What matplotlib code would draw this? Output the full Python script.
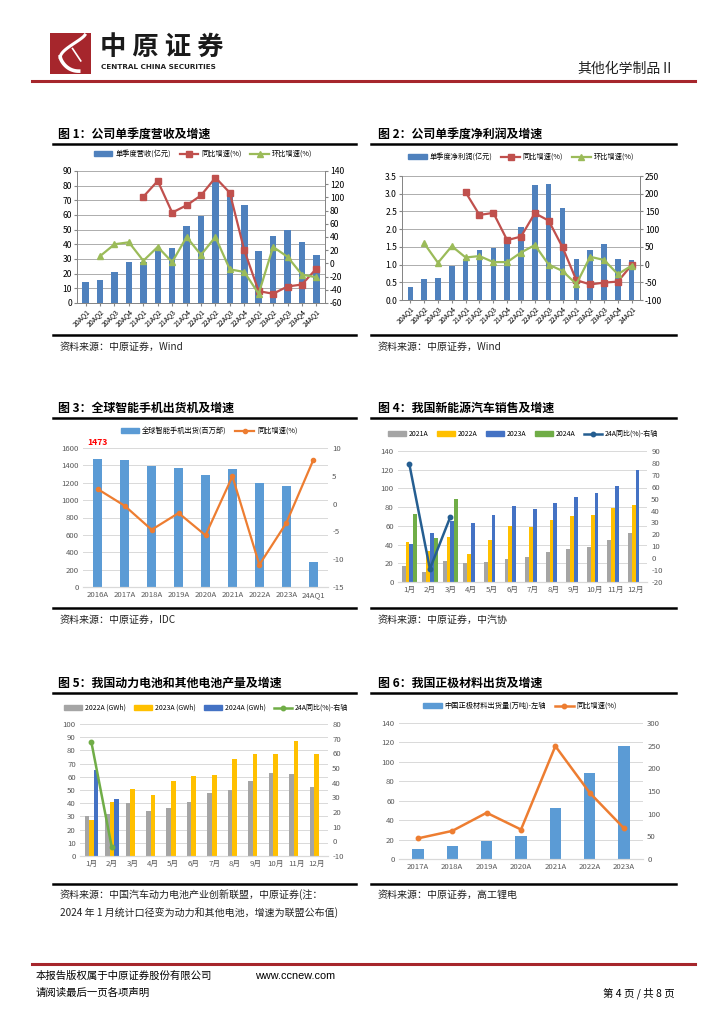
import numpy as np
import matplotlib.pyplot as plt
from matplotlib.lines import Line2D
from matplotlib.patches import Patch

plt.rcParams['font.family'] = ['Noto Sans CJK SC', 'DejaVu Sans']
plt.rcParams['axes.unicode_minus'] = False

# ---- data ----
quarters = ['20AQ1', '20AQ2', '20AQ3', '20AQ4', '21AQ1', '21AQ2', '21AQ3', '21AQ4',
            '22AQ1', '22AQ2', '22AQ3', '22AQ4', '23AQ1', '23AQ2', '23AQ3', '23AQ4', '24AQ1']
rev = [14.5, 16, 21, 28, 28, 37, 37.5, 52.5, 59, 84, 74, 66.5, 35.5, 45.5, 50, 41.5, 32.5]
rev_yoy = [None, None, None, None, 101, 125, 77, 88, 103, 130, 107, 20, -42, -46, -35, -32, -8]
rev_qoq = [None, 11, 29, 32, 4, 25, 2, 40, 13, 40, -9, -13, -46, 25, 10, -17, -21]

profit = [0.38, 0.58, 0.61, 0.95, 1.15, 1.4, 1.47, 1.62, 2.07, 3.25, 3.27, 2.6,
          1.15, 1.4, 1.57, 1.15, 1.12]
profit_yoy = [None, None, None, None, 204, 140, 146, 69, 79, 145, 124, 49, -44, -56, -51, -48, -1]
profit_qoq = [None, 60, 5, 52, 20, 24, 7, 7, 34, 55, 0, -18, -55, 22, 13, -27, -3]

phone_years = ['2016A', '2017A', '2018A', '2019A', '2020A', '2021A', '2022A', '2023A', '24AQ1']
phone_ship = [1473, 1465, 1395, 1372, 1292, 1355, 1202, 1166, 289]
phone_yoy = [2.6, -0.4, -4.7, -1.7, -5.7, 4.9, -11.0, -3.5, 7.8]

months = ['1月', '2月', '3月', '4月', '5月', '6月', '7月', '8月', '9月', '10月', '11月', '12月']
nev_2021 = [17.5, 11, 22.5, 20.5, 21.5, 25, 27, 32, 35, 37.5, 45, 52.5]
nev_2022 = [43, 33, 48, 29.5, 44.5, 60, 59, 66.5, 71, 71.5, 79, 82]
nev_2023 = [41, 52.5, 65.5, 63.5, 71.5, 81, 78, 84.5, 90.5, 95, 102.5, 119.5]
nev_2024 = [73, 47.5, 88.5]
nev_yoy24 = [79, -9, 35]

bat_2022 = [30, 32, 40.5, 34, 36, 41, 47.5, 50, 56.5, 63, 62, 52.5]
bat_2023 = [27.5, 41, 51, 46.5, 56.5, 60.5, 61, 73.5, 77.5, 77, 87.5, 77.5]
bat_2024 = [65.5, 43.5]
bat_yoy24 = [68, -4]

cat_years = ['2017A', '2018A', '2019A', '2020A', '2021A', '2022A', '2023A']
cat_ship = [10, 13, 19, 24, 53, 89, 116]
cat_yoy = [45.5, 62, 102, 65, 249, 146, 67.5]

W, H = 724, 1024
fig = plt.figure(figsize=(W / 100, H / 100), dpi=100)


def px_axes(l, t, r, b):
    return fig.add_axes([l / W, 1 - b / H, (r - l) / W, (b - t) / H])


def ftext(x, y, s, **kw):
    kw.setdefault('va', 'center')
    fig.text(x / W, 1 - y / H, s, **kw)


def hline(x0, x1, y, color='black', lw=1.5):
    fig.add_artist(Line2D([x0 / W, x1 / W], [1 - y / H, 1 - y / H], color=color, lw=lw,
                          transform=fig.transFigure))


def arr(v):
    return np.array([np.nan if a is None else a for a in v], dtype=float)


def flegend(handles, labels, xc, yc, ncol, fs=5.2, **kw):
    fig.legend(handles, labels, loc='center', bbox_to_anchor=(xc / W, 1 - yc / H), ncol=ncol,
               frameon=False, fontsize=fs, handlelength=2.6, handleheight=0.6,
               columnspacing=1.2, handletextpad=0.4, **kw)


# ---- header ----
logo = px_axes(50, 33, 91, 74)
logo.set_facecolor('#A6262C')
logo.set_xlim(0, 1)
logo.set_ylim(0, 1)
logo.set_xticks([])
logo.set_yticks([])
for s in logo.spines.values():
    s.set_visible(False)
t = np.linspace(0, 1, 60)
logo.plot(0.85 - 0.6 * np.sin(t * np.pi / 2), 0.95 - 0.55 * t ** 0.8, color='white', lw=2.2)
logo.plot(0.25 + 0.45 * t ** 1.5, 0.42 - 0.35 * np.sin(t * np.pi / 2), color='white', lw=2.6)
logo.plot(0.55 + 0.2 * t, 0.62 - 0.3 * t, color='white', lw=1.2)

ftext(100, 47, '中 原 证 券', fontsize=19, fontweight='bold', color='#1a1a1a', ha='left')
ftext(101, 67, 'CENTRAL CHINA SECURITIES', fontsize=5.2, fontweight='bold', color='#222222',
      ha='left', family='DejaVu Sans')
ftext(675, 69, '其他化学制品Ⅱ', fontsize=10, ha='right', color='#222222')
hline(32, 695, 81, color='#A6262C', lw=2.2)

# ---- panel frames and titles ----
titles = [(58, 134, '图 1：公司单季度营收及增速'), (378, 134, '图 2：公司单季度净利润及增速'),
          (58, 408, '图 3：全球智能手机出货机及增速'), (378, 408, '图 4：我国新能源汽车销售及增速'),
          (58, 683, '图 5：我国动力电池和其他电池产量及增速'), (378, 683, '图 6：我国正极材料出货及增速')]
for x, y, s in titles:
    ftext(x, y, s, fontsize=8.6, fontweight='bold', ha='left')
for y in (144, 418, 693):
    hline(53, 356, y, lw=1.8)
    hline(371, 676, y, lw=1.8)
for y in (335, 608, 884):
    hline(53, 356, y, lw=1.8)
    hline(371, 676, y, lw=1.8)

src_kw = dict(fontsize=7.2, ha='left', color='#222222')
ftext(60, 347, '资料来源：中原证券，Wind', **src_kw)
ftext(378, 347, '资料来源：中原证券，Wind', **src_kw)
ftext(60, 620, '资料来源：中原证券，IDC', **src_kw)
ftext(378, 620, '资料来源：中原证券，中汽协', **src_kw)
ftext(60, 895, '资料来源：中国汽车动力电池产业创新联盟，中原证券(注：', **src_kw)
ftext(60, 913, '2024 年 1 月统计口径变为动力和其他电池，增速为联盟公布值)', **src_kw)
ftext(378, 895, '资料来源：中原证券，高工锂电', **src_kw)

# ---- footer ----
hline(32, 695, 964, color='#A6262C', lw=2.2)
ftext(36, 976, '本报告版权属于中原证券股份有限公司', fontsize=7.5, ha='left')
ftext(255, 976, 'www.ccnew.com', fontsize=7.8, ha='left', family='Liberation Sans')
ftext(36, 993, '请阅读最后一页各项声明', fontsize=7.5, ha='left')
ftext(675, 993, '第 4 页 / 共 8 页', fontsize=7.5, ha='right')


# ---- chart 1 & 2 (excel 2007 style) ----
def quarter_chart(box, bars, yoy, qoq, lylim, lstep, rylim, rstep, lfmt, leg_xy, bar_label, bw):
    ax = px_axes(*box)
    x = np.arange(len(quarters))
    ax.bar(x, bars, width=bw, color='#4F81BD', zorder=2)
    ax.set_xlim(-0.6, len(quarters) - 0.4)
    ax.set_ylim(*lylim)
    ax.set_yticks(np.arange(lylim[0], lylim[1] + lstep / 2, lstep))
    ax.yaxis.set_major_formatter(plt.FuncFormatter(lambda v, p: lfmt.format(v)))
    ax.yaxis.grid(True, color='#A0A0A0', lw=0.6, zorder=0)
    ax.set_axisbelow(True)
    ax.set_xticks(x)
    ax.set_xticklabels(quarters, rotation=45, ha='right', rotation_mode='anchor', fontsize=5)
    ax.tick_params(axis='y', labelsize=6.2, length=2, pad=1.5, color='#868686')
    ax.tick_params(axis='x', length=2, pad=1.5, color='#868686')
    axr = ax.twinx()
    axr.set_ylim(*rylim)
    axr.set_yticks(np.arange(rylim[0], rylim[1] + rstep / 2, rstep))
    axr.tick_params(axis='y', labelsize=6.2, length=2, pad=1.5, color='#868686')
    l1, = axr.plot(x, arr(yoy), color='#C0504D', marker='s', ms=3.8, lw=1.6)
    l2, = axr.plot(x, arr(qoq), color='#9BBB59', marker='^', ms=4, lw=1.6)
    for a in (ax, axr):
        a.spines['top'].set_visible(False)
        for s in ('left', 'right', 'bottom'):
            a.spines[s].set_color('#868686')
            a.spines[s].set_linewidth(0.7)
    h0 = Patch(color='#4F81BD')
    flegend([h0, l1, l2], [bar_label, '同比增速(%)', '环比增速(%)'], leg_xy[0], leg_xy[1], 3)


quarter_chart((77, 171, 325, 303), rev, rev_yoy, rev_qoq, (0, 90), 10, (-60, 140), 20, '{:.0f}',
              (203, 154), '单季度营收(亿元)', 0.45)
quarter_chart((402, 176, 640, 300), profit, profit_yoy, profit_qoq, (0, 3.5), 0.5, (-100, 250), 50,
              '{:.1f}', (521, 157), '单季度净利润(亿元)', 0.4)


def style_modern(ax, axr):
    for a in (ax, axr):
        for s in ('top', 'left', 'right'):
            a.spines[s].set_visible(False)
        a.spines['bottom'].set_color('#D9D9D9')
        a.tick_params(axis='both', length=0, labelsize=5.6, labelcolor='#595959', pad=3)
    ax.yaxis.grid(True, color='#D9D9D9', lw=0.7)
    ax.set_axisbelow(True)


# ---- chart 3 ----
ax = px_axes(83, 448, 328, 587)
x = np.arange(len(phone_years))
b3 = ax.bar(x, phone_ship, width=0.33, color='#5B9BD5')
ax.set_xlim(-0.55, len(x) - 0.45)
ax.set_ylim(0, 1600)
ax.set_yticks(np.arange(0, 1601, 200))
ax.set_xticks(x)
ax.set_xticklabels(phone_years)
ax.annotate(str(phone_ship[0]), (x[0], phone_ship[0]), xytext=(0, 9), textcoords='offset points',
            ha='center', va='bottom', color='#FF0000', fontsize=6.3, fontweight='bold')
axr = ax.twinx()
axr.set_ylim(-15, 10)
axr.set_yticks(np.arange(-15, 11, 5))
l3, = axr.plot(x, phone_yoy, color='#ED7D31', marker='o', ms=3, lw=1.6)
style_modern(ax, axr)
flegend([Patch(color='#5B9BD5'), l3], ['全球智能手机出货(百万部)', '同比增速(%)'], 209, 431, 2, fs=5.2)

# ---- chart 4 ----
ax = px_axes(398, 451, 647, 582)
x = np.arange(len(months))
bw = 0.185
cols4 = ['#A5A5A5', '#FFC000', '#4472C4', '#70AD47']
series4 = [nev_2021, nev_2022, nev_2023, nev_2024]
names4 = ['2021A', '2022A', '2023A', '2024A']
hs = []
for i, (vals, c) in enumerate(zip(series4, cols4)):
    xs = x[:len(vals)] + (i - 1.5) * bw
    ax.bar(xs, vals, width=bw, color=c)
    hs.append(Patch(color=c))
ax.set_xlim(-0.55, len(x) - 0.45)
ax.set_ylim(0, 140)
ax.set_yticks(np.arange(0, 141, 20))
ax.set_xticks(x)
ax.set_xticklabels(months)
axr = ax.twinx()
axr.set_ylim(-20, 90)
axr.set_yticks(np.arange(-20, 91, 10))
l4, = axr.plot(x[:len(nev_yoy24)], nev_yoy24, color='#255E91', marker='o', ms=3.2, lw=1.8)
style_modern(ax, axr)
flegend(hs + [l4], names4 + ['24A同比(%)-右轴'], 523, 434, 5, fs=5.0)

# ---- chart 5 ----
ax = px_axes(80, 724, 328, 856)
bw = 0.22
cols5 = ['#A5A5A5', '#FFC000', '#4472C4']
series5 = [bat_2022, bat_2023, bat_2024]
names5 = ['2022A (GWh)', '2023A (GWh)', '2024A (GWh)']
hs = []
for i, (vals, c) in enumerate(zip(series5, cols5)):
    xs = x[:len(vals)] + (i - 1) * bw
    ax.bar(xs, vals, width=bw, color=c)
    hs.append(Patch(color=c))
ax.set_xlim(-0.55, len(x) - 0.45)
ax.set_ylim(0, 100)
ax.set_yticks(np.arange(0, 101, 10))
ax.set_xticks(x)
ax.set_xticklabels(months)
axr = ax.twinx()
axr.set_ylim(-10, 80)
axr.set_yticks(np.arange(-10, 81, 10))
l5, = axr.plot(x[:len(bat_yoy24)], bat_yoy24, color='#70AD47', marker='o', ms=3.2, lw=1.8)
style_modern(ax, axr)
flegend(hs + [l5], names5 + ['24A同比(%)-右轴'], 206, 708, 4, fs=5.0)

# ---- chart 6 ----
ax = px_axes(399, 723, 643, 859)
x = np.arange(len(cat_years))
ax.bar(x, cat_ship, width=0.33, color='#5B9BD5')
ax.set_xlim(-0.55, len(x) - 0.45)
ax.set_ylim(0, 140)
ax.set_yticks(np.arange(0, 141, 20))
ax.set_xticks(x)
ax.set_xticklabels(cat_years)
axr = ax.twinx()
axr.set_ylim(0, 300)
axr.set_yticks(np.arange(0, 301, 50))
l6, = axr.plot(x, cat_yoy, color='#ED7D31', marker='o', ms=3.2, lw=1.8)
style_modern(ax, axr)
flegend([Patch(color='#5B9BD5'), l6], ['中国正极材料出货量(万吨)-左轴', '同比增速(%)'], 520, 706, 2, fs=5.2)

fig.savefig('out.png', dpi=100)
